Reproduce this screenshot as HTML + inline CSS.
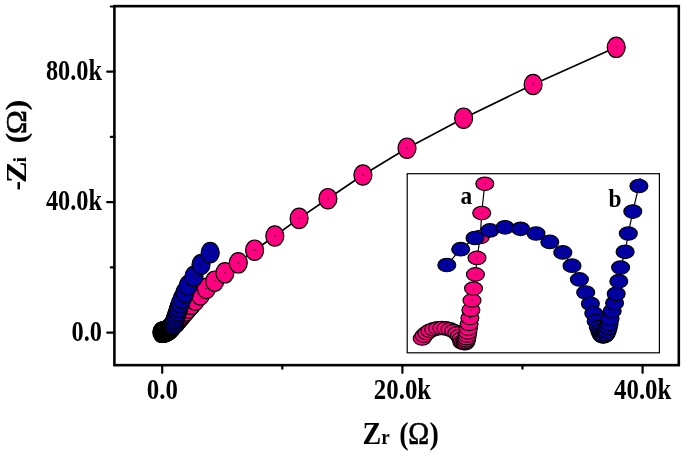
<!DOCTYPE html>
<html><head><meta charset="utf-8"><title>Nyquist plot</title>
<style>html,body{margin:0;padding:0;background:#fff;font-family:"Liberation Serif",serif}svg{display:block;will-change:transform}</style></head>
<body>
<svg width="685" height="457" viewBox="0 0 685 457">
<rect width="685" height="457" fill="#fff"/>
<path d="M161.8,332.3 L162.3,332.2 L162.9,332.1 L163.4,332.1 L163.9,331.9 L164.5,331.8 L165.0,331.7 L165.6,331.5 L166.1,331.2 L166.6,331.0 L167.2,330.7 L167.7,330.3 L168.2,330.0 L168.8,329.6 L169.3,329.1 L169.8,328.6 L170.4,328.1 L170.9,327.5 L171.5,326.9 L172.0,326.3 L172.5,325.7 L173.1,325.0 L173.6,324.4" fill="none" stroke="#000" stroke-width="1.7"/>
<ellipse cx="161.8" cy="332.3" rx="9.0" ry="10.2" fill="#000" stroke="#000" stroke-width="1.2"/>
<ellipse cx="162.3" cy="332.2" rx="9.0" ry="10.2" fill="#000" stroke="#000" stroke-width="1.2"/>
<ellipse cx="162.9" cy="332.1" rx="9.0" ry="10.2" fill="#000" stroke="#000" stroke-width="1.2"/>
<ellipse cx="163.4" cy="332.1" rx="9.0" ry="10.2" fill="#000" stroke="#000" stroke-width="1.2"/>
<ellipse cx="163.9" cy="331.9" rx="9.0" ry="10.2" fill="#000" stroke="#000" stroke-width="1.2"/>
<ellipse cx="164.5" cy="331.8" rx="9.0" ry="10.2" fill="#000" stroke="#000" stroke-width="1.2"/>
<ellipse cx="165.0" cy="331.7" rx="9.0" ry="10.2" fill="#000" stroke="#000" stroke-width="1.2"/>
<ellipse cx="165.6" cy="331.5" rx="9.0" ry="10.2" fill="#000" stroke="#000" stroke-width="1.2"/>
<ellipse cx="166.1" cy="331.2" rx="9.0" ry="10.2" fill="#000" stroke="#000" stroke-width="1.2"/>
<ellipse cx="166.6" cy="331.0" rx="9.0" ry="10.2" fill="#000" stroke="#000" stroke-width="1.2"/>
<ellipse cx="167.2" cy="330.7" rx="9.0" ry="10.2" fill="#000" stroke="#000" stroke-width="1.2"/>
<ellipse cx="167.7" cy="330.3" rx="9.0" ry="10.2" fill="#000" stroke="#000" stroke-width="1.2"/>
<ellipse cx="168.2" cy="330.0" rx="9.0" ry="10.2" fill="#000" stroke="#000" stroke-width="1.2"/>
<ellipse cx="168.8" cy="329.6" rx="9.0" ry="10.2" fill="#000" stroke="#000" stroke-width="1.2"/>
<ellipse cx="169.3" cy="329.1" rx="9.0" ry="10.2" fill="#000" stroke="#000" stroke-width="1.2"/>
<ellipse cx="169.8" cy="328.6" rx="9.0" ry="10.2" fill="#000" stroke="#000" stroke-width="1.2"/>
<ellipse cx="170.4" cy="328.1" rx="9.0" ry="10.2" fill="#000" stroke="#000" stroke-width="1.2"/>
<ellipse cx="170.9" cy="327.5" rx="9.0" ry="10.2" fill="#000" stroke="#000" stroke-width="1.2"/>
<ellipse cx="171.5" cy="326.9" rx="9.0" ry="10.2" fill="#000" stroke="#000" stroke-width="1.2"/>
<ellipse cx="172.0" cy="326.3" rx="9.0" ry="10.2" fill="#000" stroke="#000" stroke-width="1.2"/>
<ellipse cx="172.5" cy="325.7" rx="9.0" ry="10.2" fill="#000" stroke="#000" stroke-width="1.2"/>
<ellipse cx="173.1" cy="325.0" rx="9.0" ry="10.2" fill="#000" stroke="#000" stroke-width="1.2"/>
<ellipse cx="173.6" cy="324.4" rx="9.0" ry="10.2" fill="#000" stroke="#000" stroke-width="1.2"/>
<path d="M175.5,322.7 L175.7,322.5 L175.9,322.2 L176.2,321.9 L176.5,321.5 L176.9,321.1 L177.3,320.5 L177.9,319.8 L178.7,319.0 L179.6,318.0 L180.7,316.7 L182.0,315.1 L183.7,313.2 L185.8,310.9 L188.4,308.0 L191.6,304.5 L195.5,300.2 L200.4,294.9 L206.4,288.4 L214.7,281.2 L224.9,272.8 L238.3,262.8 L254.6,250.2 L274.8,236.0 L299.1,218.4 L327.9,198.7 L362.9,175.0 L407.0,148.2 L463.6,118.2 L533.1,84.5 L616.2,47.3" fill="none" stroke="#000" stroke-width="1.7"/>
<ellipse cx="175.5" cy="322.7" rx="9.0" ry="10.2" fill="#FF0080" stroke="#000" stroke-width="1.2"/><circle cx="175.5" cy="322.7" r="0.7" fill="#200010"/>
<ellipse cx="175.7" cy="322.5" rx="9.0" ry="10.2" fill="#FF0080" stroke="#000" stroke-width="1.2"/><circle cx="175.7" cy="322.5" r="0.7" fill="#200010"/>
<ellipse cx="175.9" cy="322.2" rx="9.0" ry="10.2" fill="#FF0080" stroke="#000" stroke-width="1.2"/><circle cx="175.9" cy="322.2" r="0.7" fill="#200010"/>
<ellipse cx="176.2" cy="321.9" rx="9.0" ry="10.2" fill="#FF0080" stroke="#000" stroke-width="1.2"/><circle cx="176.2" cy="321.9" r="0.7" fill="#200010"/>
<ellipse cx="176.5" cy="321.5" rx="9.0" ry="10.2" fill="#FF0080" stroke="#000" stroke-width="1.2"/><circle cx="176.5" cy="321.5" r="0.7" fill="#200010"/>
<ellipse cx="176.9" cy="321.1" rx="9.0" ry="10.2" fill="#FF0080" stroke="#000" stroke-width="1.2"/><circle cx="176.9" cy="321.1" r="0.7" fill="#200010"/>
<ellipse cx="177.3" cy="320.5" rx="9.0" ry="10.2" fill="#FF0080" stroke="#000" stroke-width="1.2"/><circle cx="177.3" cy="320.5" r="0.7" fill="#200010"/>
<ellipse cx="177.9" cy="319.8" rx="9.0" ry="10.2" fill="#FF0080" stroke="#000" stroke-width="1.2"/><circle cx="177.9" cy="319.8" r="0.7" fill="#200010"/>
<ellipse cx="178.7" cy="319.0" rx="9.0" ry="10.2" fill="#FF0080" stroke="#000" stroke-width="1.2"/><circle cx="178.7" cy="319.0" r="0.7" fill="#200010"/>
<ellipse cx="179.6" cy="318.0" rx="9.0" ry="10.2" fill="#FF0080" stroke="#000" stroke-width="1.2"/><circle cx="179.6" cy="318.0" r="0.7" fill="#200010"/>
<ellipse cx="180.7" cy="316.7" rx="9.0" ry="10.2" fill="#FF0080" stroke="#000" stroke-width="1.2"/><circle cx="180.7" cy="316.7" r="0.7" fill="#200010"/>
<ellipse cx="182.0" cy="315.1" rx="9.0" ry="10.2" fill="#FF0080" stroke="#000" stroke-width="1.2"/><circle cx="182.0" cy="315.1" r="0.7" fill="#200010"/>
<ellipse cx="183.7" cy="313.2" rx="9.0" ry="10.2" fill="#FF0080" stroke="#000" stroke-width="1.2"/><circle cx="183.7" cy="313.2" r="0.7" fill="#200010"/>
<ellipse cx="185.8" cy="310.9" rx="9.0" ry="10.2" fill="#FF0080" stroke="#000" stroke-width="1.2"/><circle cx="185.8" cy="310.9" r="0.7" fill="#200010"/>
<ellipse cx="188.4" cy="308.0" rx="9.0" ry="10.2" fill="#FF0080" stroke="#000" stroke-width="1.2"/><circle cx="188.4" cy="308.0" r="0.7" fill="#200010"/>
<ellipse cx="191.6" cy="304.5" rx="9.0" ry="10.2" fill="#FF0080" stroke="#000" stroke-width="1.2"/><circle cx="191.6" cy="304.5" r="0.7" fill="#200010"/>
<ellipse cx="195.5" cy="300.2" rx="9.0" ry="10.2" fill="#FF0080" stroke="#000" stroke-width="1.2"/><circle cx="195.5" cy="300.2" r="0.7" fill="#200010"/>
<ellipse cx="200.4" cy="294.9" rx="9.0" ry="10.2" fill="#FF0080" stroke="#000" stroke-width="1.2"/><circle cx="200.4" cy="294.9" r="0.7" fill="#200010"/>
<ellipse cx="206.4" cy="288.4" rx="9.0" ry="10.2" fill="#FF0080" stroke="#000" stroke-width="1.2"/><circle cx="206.4" cy="288.4" r="0.7" fill="#200010"/>
<ellipse cx="214.7" cy="281.2" rx="9.0" ry="10.2" fill="#FF0080" stroke="#000" stroke-width="1.2"/><circle cx="214.7" cy="281.2" r="0.7" fill="#200010"/>
<ellipse cx="224.9" cy="272.8" rx="9.0" ry="10.2" fill="#FF0080" stroke="#000" stroke-width="1.2"/><circle cx="224.9" cy="272.8" r="0.7" fill="#200010"/>
<ellipse cx="238.3" cy="262.8" rx="9.0" ry="10.2" fill="#FF0080" stroke="#000" stroke-width="1.2"/><circle cx="238.3" cy="262.8" r="0.7" fill="#200010"/>
<ellipse cx="254.6" cy="250.2" rx="9.0" ry="10.2" fill="#FF0080" stroke="#000" stroke-width="1.2"/><circle cx="254.6" cy="250.2" r="0.7" fill="#200010"/>
<ellipse cx="274.8" cy="236.0" rx="9.0" ry="10.2" fill="#FF0080" stroke="#000" stroke-width="1.2"/><circle cx="274.8" cy="236.0" r="0.7" fill="#200010"/>
<ellipse cx="299.1" cy="218.4" rx="9.0" ry="10.2" fill="#FF0080" stroke="#000" stroke-width="1.2"/><circle cx="299.1" cy="218.4" r="0.7" fill="#200010"/>
<ellipse cx="327.9" cy="198.7" rx="9.0" ry="10.2" fill="#FF0080" stroke="#000" stroke-width="1.2"/><circle cx="327.9" cy="198.7" r="0.7" fill="#200010"/>
<ellipse cx="362.9" cy="175.0" rx="9.0" ry="10.2" fill="#FF0080" stroke="#000" stroke-width="1.2"/><circle cx="362.9" cy="175.0" r="0.7" fill="#200010"/>
<ellipse cx="407.0" cy="148.2" rx="9.0" ry="10.2" fill="#FF0080" stroke="#000" stroke-width="1.2"/><circle cx="407.0" cy="148.2" r="0.7" fill="#200010"/>
<ellipse cx="463.6" cy="118.2" rx="9.0" ry="10.2" fill="#FF0080" stroke="#000" stroke-width="1.2"/><circle cx="463.6" cy="118.2" r="0.7" fill="#200010"/>
<ellipse cx="533.1" cy="84.5" rx="9.0" ry="10.2" fill="#FF0080" stroke="#000" stroke-width="1.2"/><circle cx="533.1" cy="84.5" r="0.7" fill="#200010"/>
<ellipse cx="616.2" cy="47.3" rx="9.0" ry="10.2" fill="#FF0080" stroke="#000" stroke-width="1.2"/><circle cx="616.2" cy="47.3" r="0.7" fill="#200010"/>
<path d="M173.6,324.4 L174.0,323.0 L174.4,321.6 L174.8,320.2 L175.3,318.7 L175.8,317.1 L176.4,315.3 L177.1,313.2 L177.9,310.7 L179.0,307.3 L180.5,303.2 L182.4,298.3 L184.9,292.5 L188.3,285.5 L194.0,276.3 L201.0,264.5 L210.2,252.6" fill="none" stroke="#000" stroke-width="1.7"/>
<ellipse cx="173.6" cy="324.4" rx="9.0" ry="10.2" fill="#0000A3" stroke="#000" stroke-width="0.8"/><circle cx="173.6" cy="324.4" r="0.7" fill="#200010"/>
<ellipse cx="174.0" cy="323.0" rx="9.0" ry="10.2" fill="#0000A3" stroke="#000" stroke-width="0.8"/><circle cx="174.0" cy="323.0" r="0.7" fill="#200010"/>
<ellipse cx="174.4" cy="321.6" rx="9.0" ry="10.2" fill="#0000A3" stroke="#000" stroke-width="0.8"/><circle cx="174.4" cy="321.6" r="0.7" fill="#200010"/>
<ellipse cx="174.8" cy="320.2" rx="9.0" ry="10.2" fill="#0000A3" stroke="#000" stroke-width="0.8"/><circle cx="174.8" cy="320.2" r="0.7" fill="#200010"/>
<ellipse cx="175.3" cy="318.7" rx="9.0" ry="10.2" fill="#0000A3" stroke="#000" stroke-width="0.8"/><circle cx="175.3" cy="318.7" r="0.7" fill="#200010"/>
<ellipse cx="175.8" cy="317.1" rx="9.0" ry="10.2" fill="#0000A3" stroke="#000" stroke-width="0.8"/><circle cx="175.8" cy="317.1" r="0.7" fill="#200010"/>
<ellipse cx="176.4" cy="315.3" rx="9.0" ry="10.2" fill="#0000A3" stroke="#000" stroke-width="0.8"/><circle cx="176.4" cy="315.3" r="0.7" fill="#200010"/>
<ellipse cx="177.1" cy="313.2" rx="9.0" ry="10.2" fill="#0000A3" stroke="#000" stroke-width="0.8"/><circle cx="177.1" cy="313.2" r="0.7" fill="#200010"/>
<ellipse cx="177.9" cy="310.7" rx="9.0" ry="10.2" fill="#0000A3" stroke="#000" stroke-width="1.2"/><circle cx="177.9" cy="310.7" r="0.7" fill="#200010"/>
<ellipse cx="179.0" cy="307.3" rx="9.0" ry="10.2" fill="#0000A3" stroke="#000" stroke-width="1.2"/><circle cx="179.0" cy="307.3" r="0.7" fill="#200010"/>
<ellipse cx="180.5" cy="303.2" rx="9.0" ry="10.2" fill="#0000A3" stroke="#000" stroke-width="1.2"/><circle cx="180.5" cy="303.2" r="0.7" fill="#200010"/>
<ellipse cx="182.4" cy="298.3" rx="9.0" ry="10.2" fill="#0000A3" stroke="#000" stroke-width="1.2"/><circle cx="182.4" cy="298.3" r="0.7" fill="#200010"/>
<ellipse cx="184.9" cy="292.5" rx="9.0" ry="10.2" fill="#0000A3" stroke="#000" stroke-width="1.2"/><circle cx="184.9" cy="292.5" r="0.7" fill="#200010"/>
<ellipse cx="188.3" cy="285.5" rx="9.0" ry="10.2" fill="#0000A3" stroke="#000" stroke-width="1.2"/><circle cx="188.3" cy="285.5" r="0.7" fill="#200010"/>
<ellipse cx="194.0" cy="276.3" rx="9.0" ry="10.2" fill="#0000A3" stroke="#000" stroke-width="1.2"/><circle cx="194.0" cy="276.3" r="0.7" fill="#200010"/>
<ellipse cx="201.0" cy="264.5" rx="9.0" ry="10.2" fill="#0000A3" stroke="#000" stroke-width="1.2"/><circle cx="201.0" cy="264.5" r="0.7" fill="#200010"/>
<ellipse cx="210.2" cy="252.6" rx="9.0" ry="10.2" fill="#0000A3" stroke="#000" stroke-width="1.2"/><circle cx="210.2" cy="252.6" r="0.7" fill="#200010"/>
<rect x="407.2" y="173.7" width="252.2" height="179.1" fill="#fff" stroke="#000" stroke-width="1.2"/>
<path d="M422.2,338.5 L424.1,335.6 L426.7,333.0 L429.9,330.8 L433.6,329.3 L437.6,328.3 L441.8,328.0 L446.0,328.4 L450.0,329.4 L453.6,331.1 L456.7,333.3 L459.2,336.0 L461.0,338.9 L461.9,342.2 L463.6,343.0 L465.0,343.2 L465.8,342.0 L466.3,340.3 L466.8,338.2 L467.3,335.6 L467.8,332.4 L468.4,328.6 L469.1,323.9 L469.9,318.0 L470.9,309.9 L472.0,300.4 L473.5,288.6 L475.4,274.4 L477.0,257.9 L480.3,237.0 L481.7,213.0 L484.8,183.8" fill="none" stroke="#000" stroke-width="1.2"/>
<ellipse cx="422.2" cy="338.5" rx="8.95" ry="6.75" fill="#FF0080" stroke="#000" stroke-width="1.2"/><circle cx="422.2" cy="338.5" r="0.7" fill="#200010"/>
<ellipse cx="424.1" cy="335.6" rx="8.95" ry="6.75" fill="#FF0080" stroke="#000" stroke-width="1.2"/><circle cx="424.1" cy="335.6" r="0.7" fill="#200010"/>
<ellipse cx="426.7" cy="333.0" rx="8.95" ry="6.75" fill="#FF0080" stroke="#000" stroke-width="1.2"/><circle cx="426.7" cy="333.0" r="0.7" fill="#200010"/>
<ellipse cx="429.9" cy="330.8" rx="8.95" ry="6.75" fill="#FF0080" stroke="#000" stroke-width="1.2"/><circle cx="429.9" cy="330.8" r="0.7" fill="#200010"/>
<ellipse cx="433.6" cy="329.3" rx="8.95" ry="6.75" fill="#FF0080" stroke="#000" stroke-width="1.2"/><circle cx="433.6" cy="329.3" r="0.7" fill="#200010"/>
<ellipse cx="437.6" cy="328.3" rx="8.95" ry="6.75" fill="#FF0080" stroke="#000" stroke-width="1.2"/><circle cx="437.6" cy="328.3" r="0.7" fill="#200010"/>
<ellipse cx="441.8" cy="328.0" rx="8.95" ry="6.75" fill="#FF0080" stroke="#000" stroke-width="1.2"/><circle cx="441.8" cy="328.0" r="0.7" fill="#200010"/>
<ellipse cx="446.0" cy="328.4" rx="8.95" ry="6.75" fill="#FF0080" stroke="#000" stroke-width="1.2"/><circle cx="446.0" cy="328.4" r="0.7" fill="#200010"/>
<ellipse cx="450.0" cy="329.4" rx="8.95" ry="6.75" fill="#FF0080" stroke="#000" stroke-width="1.2"/><circle cx="450.0" cy="329.4" r="0.7" fill="#200010"/>
<ellipse cx="453.6" cy="331.1" rx="8.95" ry="6.75" fill="#FF0080" stroke="#000" stroke-width="1.2"/><circle cx="453.6" cy="331.1" r="0.7" fill="#200010"/>
<ellipse cx="456.7" cy="333.3" rx="8.95" ry="6.75" fill="#FF0080" stroke="#000" stroke-width="1.2"/><circle cx="456.7" cy="333.3" r="0.7" fill="#200010"/>
<ellipse cx="459.2" cy="336.0" rx="8.95" ry="6.75" fill="#FF0080" stroke="#000" stroke-width="1.2"/><circle cx="459.2" cy="336.0" r="0.7" fill="#200010"/>
<ellipse cx="461.0" cy="338.9" rx="8.95" ry="6.75" fill="#FF0080" stroke="#000" stroke-width="1.2"/><circle cx="461.0" cy="338.9" r="0.7" fill="#200010"/>
<ellipse cx="461.9" cy="342.2" rx="8.95" ry="6.75" fill="#FF0080" stroke="#000" stroke-width="1.2"/><circle cx="461.9" cy="342.2" r="0.7" fill="#200010"/>
<ellipse cx="463.6" cy="343.0" rx="8.95" ry="6.75" fill="#FF0080" stroke="#000" stroke-width="1.2"/><circle cx="463.6" cy="343.0" r="0.7" fill="#200010"/>
<ellipse cx="465.0" cy="343.2" rx="8.95" ry="6.75" fill="#FF0080" stroke="#000" stroke-width="1.2"/><circle cx="465.0" cy="343.2" r="0.7" fill="#200010"/>
<ellipse cx="465.8" cy="342.0" rx="8.95" ry="6.75" fill="#FF0080" stroke="#000" stroke-width="1.2"/><circle cx="465.8" cy="342.0" r="0.7" fill="#200010"/>
<ellipse cx="466.3" cy="340.3" rx="8.95" ry="6.75" fill="#FF0080" stroke="#000" stroke-width="1.2"/><circle cx="466.3" cy="340.3" r="0.7" fill="#200010"/>
<ellipse cx="466.8" cy="338.2" rx="8.95" ry="6.75" fill="#FF0080" stroke="#000" stroke-width="1.2"/><circle cx="466.8" cy="338.2" r="0.7" fill="#200010"/>
<ellipse cx="467.3" cy="335.6" rx="8.95" ry="6.75" fill="#FF0080" stroke="#000" stroke-width="1.2"/><circle cx="467.3" cy="335.6" r="0.7" fill="#200010"/>
<ellipse cx="467.8" cy="332.4" rx="8.95" ry="6.75" fill="#FF0080" stroke="#000" stroke-width="1.2"/><circle cx="467.8" cy="332.4" r="0.7" fill="#200010"/>
<ellipse cx="468.4" cy="328.6" rx="8.95" ry="6.75" fill="#FF0080" stroke="#000" stroke-width="1.2"/><circle cx="468.4" cy="328.6" r="0.7" fill="#200010"/>
<ellipse cx="469.1" cy="323.9" rx="8.95" ry="6.75" fill="#FF0080" stroke="#000" stroke-width="1.2"/><circle cx="469.1" cy="323.9" r="0.7" fill="#200010"/>
<ellipse cx="469.9" cy="318.0" rx="8.95" ry="6.75" fill="#FF0080" stroke="#000" stroke-width="1.2"/><circle cx="469.9" cy="318.0" r="0.7" fill="#200010"/>
<ellipse cx="470.9" cy="309.9" rx="8.95" ry="6.75" fill="#FF0080" stroke="#000" stroke-width="1.2"/><circle cx="470.9" cy="309.9" r="0.7" fill="#200010"/>
<ellipse cx="472.0" cy="300.4" rx="8.95" ry="6.75" fill="#FF0080" stroke="#000" stroke-width="1.2"/><circle cx="472.0" cy="300.4" r="0.7" fill="#200010"/>
<ellipse cx="473.5" cy="288.6" rx="8.95" ry="6.75" fill="#FF0080" stroke="#000" stroke-width="1.2"/><circle cx="473.5" cy="288.6" r="0.7" fill="#200010"/>
<ellipse cx="475.4" cy="274.4" rx="8.95" ry="6.75" fill="#FF0080" stroke="#000" stroke-width="1.2"/><circle cx="475.4" cy="274.4" r="0.7" fill="#200010"/>
<ellipse cx="477.0" cy="257.9" rx="8.95" ry="6.75" fill="#FF0080" stroke="#000" stroke-width="1.2"/><circle cx="477.0" cy="257.9" r="0.7" fill="#200010"/>
<ellipse cx="480.3" cy="237.0" rx="8.95" ry="6.75" fill="#FF0080" stroke="#000" stroke-width="1.2"/><circle cx="480.3" cy="237.0" r="0.7" fill="#200010"/>
<ellipse cx="481.7" cy="213.0" rx="8.95" ry="6.75" fill="#FF0080" stroke="#000" stroke-width="1.2"/><circle cx="481.7" cy="213.0" r="0.7" fill="#200010"/>
<ellipse cx="484.8" cy="183.8" rx="8.95" ry="6.75" fill="#FF0080" stroke="#000" stroke-width="1.2"/><circle cx="484.8" cy="183.8" r="0.7" fill="#200010"/>
<path d="M446.8,265.0 L460.7,249.2 L475.0,238.0 L489.9,230.4 L505.0,227.3 L520.6,228.8 L536.0,233.5 L549.8,241.9 L562.8,252.4 L572.0,265.7 L579.4,279.4 L585.7,292.5 L590.4,303.8 L593.8,313.5 L596.2,321.4 L598.3,327.2 L599.7,331.0 L600.7,333.6 L601.6,335.3 L602.6,336.3 L603.8,336.3 L605.0,335.5 L606.2,333.8 L607.2,331.3 L608.2,328.0 L609.1,324.0 L610.1,318.8 L612.2,310.9 L614.6,303.0 L616.2,293.8 L618.8,281.2 L620.6,267.6 L625.1,251.8 L628.3,233.5 L632.8,211.6 L638.9,186.0" fill="none" stroke="#000" stroke-width="1.2"/>
<ellipse cx="446.8" cy="265.0" rx="8.95" ry="6.75" fill="#0000A3" stroke="#000" stroke-width="1.2"/><circle cx="446.8" cy="265.0" r="0.7" fill="#200010"/>
<ellipse cx="460.7" cy="249.2" rx="8.95" ry="6.75" fill="#0000A3" stroke="#000" stroke-width="1.2"/><circle cx="460.7" cy="249.2" r="0.7" fill="#200010"/>
<ellipse cx="475.0" cy="238.0" rx="8.95" ry="6.75" fill="#0000A3" stroke="#000" stroke-width="1.2"/><circle cx="475.0" cy="238.0" r="0.7" fill="#200010"/>
<ellipse cx="489.9" cy="230.4" rx="8.95" ry="6.75" fill="#0000A3" stroke="#000" stroke-width="1.2"/><circle cx="489.9" cy="230.4" r="0.7" fill="#200010"/>
<ellipse cx="505.0" cy="227.3" rx="8.95" ry="6.75" fill="#0000A3" stroke="#000" stroke-width="1.2"/><circle cx="505.0" cy="227.3" r="0.7" fill="#200010"/>
<ellipse cx="520.6" cy="228.8" rx="8.95" ry="6.75" fill="#0000A3" stroke="#000" stroke-width="1.2"/><circle cx="520.6" cy="228.8" r="0.7" fill="#200010"/>
<ellipse cx="536.0" cy="233.5" rx="8.95" ry="6.75" fill="#0000A3" stroke="#000" stroke-width="1.2"/><circle cx="536.0" cy="233.5" r="0.7" fill="#200010"/>
<ellipse cx="549.8" cy="241.9" rx="8.95" ry="6.75" fill="#0000A3" stroke="#000" stroke-width="1.2"/><circle cx="549.8" cy="241.9" r="0.7" fill="#200010"/>
<ellipse cx="562.8" cy="252.4" rx="8.95" ry="6.75" fill="#0000A3" stroke="#000" stroke-width="1.2"/><circle cx="562.8" cy="252.4" r="0.7" fill="#200010"/>
<ellipse cx="572.0" cy="265.7" rx="8.95" ry="6.75" fill="#0000A3" stroke="#000" stroke-width="1.2"/><circle cx="572.0" cy="265.7" r="0.7" fill="#200010"/>
<ellipse cx="579.4" cy="279.4" rx="8.95" ry="6.75" fill="#0000A3" stroke="#000" stroke-width="1.2"/><circle cx="579.4" cy="279.4" r="0.7" fill="#200010"/>
<ellipse cx="585.7" cy="292.5" rx="8.95" ry="6.75" fill="#0000A3" stroke="#000" stroke-width="1.2"/><circle cx="585.7" cy="292.5" r="0.7" fill="#200010"/>
<ellipse cx="590.4" cy="303.8" rx="8.95" ry="6.75" fill="#0000A3" stroke="#000" stroke-width="1.2"/><circle cx="590.4" cy="303.8" r="0.7" fill="#200010"/>
<ellipse cx="593.8" cy="313.5" rx="8.95" ry="6.75" fill="#0000A3" stroke="#000" stroke-width="1.2"/><circle cx="593.8" cy="313.5" r="0.7" fill="#200010"/>
<ellipse cx="596.2" cy="321.4" rx="8.95" ry="6.75" fill="#0000A3" stroke="#000" stroke-width="1.2"/><circle cx="596.2" cy="321.4" r="0.7" fill="#200010"/>
<ellipse cx="598.3" cy="327.2" rx="8.95" ry="6.75" fill="#0000A3" stroke="#000" stroke-width="1.2"/><circle cx="598.3" cy="327.2" r="0.7" fill="#200010"/>
<ellipse cx="599.7" cy="331.0" rx="8.95" ry="6.75" fill="#0000A3" stroke="#000" stroke-width="1.2"/><circle cx="599.7" cy="331.0" r="0.7" fill="#200010"/>
<ellipse cx="600.7" cy="333.6" rx="8.95" ry="6.75" fill="#0000A3" stroke="#000" stroke-width="1.2"/><circle cx="600.7" cy="333.6" r="0.7" fill="#200010"/>
<ellipse cx="601.6" cy="335.3" rx="8.95" ry="6.75" fill="#0000A3" stroke="#000" stroke-width="1.2"/><circle cx="601.6" cy="335.3" r="0.7" fill="#200010"/>
<ellipse cx="602.6" cy="336.3" rx="8.95" ry="6.75" fill="#0000A3" stroke="#000" stroke-width="1.2"/><circle cx="602.6" cy="336.3" r="0.7" fill="#200010"/>
<ellipse cx="603.8" cy="336.3" rx="8.95" ry="6.75" fill="#0000A3" stroke="#000" stroke-width="1.2"/><circle cx="603.8" cy="336.3" r="0.7" fill="#200010"/>
<ellipse cx="605.0" cy="335.5" rx="8.95" ry="6.75" fill="#0000A3" stroke="#000" stroke-width="1.2"/><circle cx="605.0" cy="335.5" r="0.7" fill="#200010"/>
<ellipse cx="606.2" cy="333.8" rx="8.95" ry="6.75" fill="#0000A3" stroke="#000" stroke-width="1.2"/><circle cx="606.2" cy="333.8" r="0.7" fill="#200010"/>
<ellipse cx="607.2" cy="331.3" rx="8.95" ry="6.75" fill="#0000A3" stroke="#000" stroke-width="1.2"/><circle cx="607.2" cy="331.3" r="0.7" fill="#200010"/>
<ellipse cx="608.2" cy="328.0" rx="8.95" ry="6.75" fill="#0000A3" stroke="#000" stroke-width="1.2"/><circle cx="608.2" cy="328.0" r="0.7" fill="#200010"/>
<ellipse cx="609.1" cy="324.0" rx="8.95" ry="6.75" fill="#0000A3" stroke="#000" stroke-width="1.2"/><circle cx="609.1" cy="324.0" r="0.7" fill="#200010"/>
<ellipse cx="610.1" cy="318.8" rx="8.95" ry="6.75" fill="#0000A3" stroke="#000" stroke-width="1.2"/><circle cx="610.1" cy="318.8" r="0.7" fill="#200010"/>
<ellipse cx="612.2" cy="310.9" rx="8.95" ry="6.75" fill="#0000A3" stroke="#000" stroke-width="1.2"/><circle cx="612.2" cy="310.9" r="0.7" fill="#200010"/>
<ellipse cx="614.6" cy="303.0" rx="8.95" ry="6.75" fill="#0000A3" stroke="#000" stroke-width="1.2"/><circle cx="614.6" cy="303.0" r="0.7" fill="#200010"/>
<ellipse cx="616.2" cy="293.8" rx="8.95" ry="6.75" fill="#0000A3" stroke="#000" stroke-width="1.2"/><circle cx="616.2" cy="293.8" r="0.7" fill="#200010"/>
<ellipse cx="618.8" cy="281.2" rx="8.95" ry="6.75" fill="#0000A3" stroke="#000" stroke-width="1.2"/><circle cx="618.8" cy="281.2" r="0.7" fill="#200010"/>
<ellipse cx="620.6" cy="267.6" rx="8.95" ry="6.75" fill="#0000A3" stroke="#000" stroke-width="1.2"/><circle cx="620.6" cy="267.6" r="0.7" fill="#200010"/>
<ellipse cx="625.1" cy="251.8" rx="8.95" ry="6.75" fill="#0000A3" stroke="#000" stroke-width="1.2"/><circle cx="625.1" cy="251.8" r="0.7" fill="#200010"/>
<ellipse cx="628.3" cy="233.5" rx="8.95" ry="6.75" fill="#0000A3" stroke="#000" stroke-width="1.2"/><circle cx="628.3" cy="233.5" r="0.7" fill="#200010"/>
<ellipse cx="632.8" cy="211.6" rx="8.95" ry="6.75" fill="#0000A3" stroke="#000" stroke-width="1.2"/><circle cx="632.8" cy="211.6" r="0.7" fill="#200010"/>
<ellipse cx="638.9" cy="186.0" rx="8.95" ry="6.75" fill="#0000A3" stroke="#000" stroke-width="1.2"/><circle cx="638.9" cy="186.0" r="0.7" fill="#200010"/>
<path d="M639.9,179.8 L640.2,178.0" stroke="#000" stroke-width="1.2"/>
<rect x="114.4" y="6.15" width="564.4" height="359.0" fill="none" stroke="#000" stroke-width="2.6"/>
<path d="M162.2,365.1 V372.8" stroke="#000" stroke-width="2.2" stroke-linecap="round"/>
<path d="M282.3,365.1 V368.70000000000005" stroke="#000" stroke-width="2.2" stroke-linecap="round"/>
<path d="M402.4,365.1 V372.8" stroke="#000" stroke-width="2.2" stroke-linecap="round"/>
<path d="M522.5,365.1 V368.70000000000005" stroke="#000" stroke-width="2.2" stroke-linecap="round"/>
<path d="M642.6,365.1 V372.8" stroke="#000" stroke-width="2.2" stroke-linecap="round"/>
<path d="M114.4,332.6 H107.2" stroke="#000" stroke-width="2.2" stroke-linecap="round"/>
<path d="M114.4,267.4 H110.80000000000001" stroke="#000" stroke-width="2.2" stroke-linecap="round"/>
<path d="M114.4,202.2 H107.2" stroke="#000" stroke-width="2.2" stroke-linecap="round"/>
<path d="M114.4,136.9 H110.80000000000001" stroke="#000" stroke-width="2.2" stroke-linecap="round"/>
<path d="M114.4,71.7 H107.2" stroke="#000" stroke-width="2.2" stroke-linecap="round"/>
<path d="M114.4,6.5 H110.80000000000001" stroke="#000" stroke-width="2.2" stroke-linecap="round"/>
<text transform="translate(102.0,340.6) scale(0.845,1)" text-anchor="end" font-size="28.8" font-family="Liberation Serif, serif" font-weight="bold">0.0</text>
<text transform="translate(102.0,210.2) scale(0.845,1)" text-anchor="end" font-size="28.8" font-family="Liberation Serif, serif" font-weight="bold">40.0k</text>
<text transform="translate(102.0,79.7) scale(0.845,1)" text-anchor="end" font-size="28.8" font-family="Liberation Serif, serif" font-weight="bold">80.0k</text>
<text transform="translate(162.3,399.4) scale(0.858,1)" text-anchor="middle" font-size="29.0" font-family="Liberation Serif, serif" font-weight="bold">0.0</text>
<text transform="translate(402.5,399.4) scale(0.858,1)" text-anchor="middle" font-size="29.0" font-family="Liberation Serif, serif" font-weight="bold">20.0k</text>
<text transform="translate(642.7,399.4) scale(0.858,1)" text-anchor="middle" font-size="29.0" font-family="Liberation Serif, serif" font-weight="bold">40.0k</text>
<text transform="translate(460.6,204) scale(0.9,1)" font-size="26" font-family="Liberation Serif, serif" font-weight="bold">a</text>
<text transform="translate(608.5,206.6) scale(0.9,1)" font-size="26" font-family="Liberation Serif, serif" font-weight="bold">b</text>
<text transform="translate(362.4,443.6) scale(0.87,1)" font-size="32.3" font-family="Liberation Serif, serif" font-weight="bold">Z<tspan font-size="22">r</tspan><tspan dx="11">(</tspan><tspan dx="-0.3" font-weight="normal" stroke="#000" stroke-width="0.6">Ω</tspan><tspan dx="0.5">)</tspan></text>
<text transform="translate(25.8,190.4) rotate(-90) scale(1,0.9)" font-size="32.5" font-family="Liberation Serif, serif" font-weight="bold"><tspan textLength="9.5" lengthAdjust="spacingAndGlyphs">-</tspan><tspan dx="-2.2">Z</tspan><tspan font-size="20" dx="-1.1">i</tspan><tspan dx="13.5">(</tspan><tspan dx="-1.5" font-weight="normal" stroke="#000" stroke-width="0.6">Ω</tspan><tspan dx="-0.6">)</tspan></text>
</svg>
</body></html>
